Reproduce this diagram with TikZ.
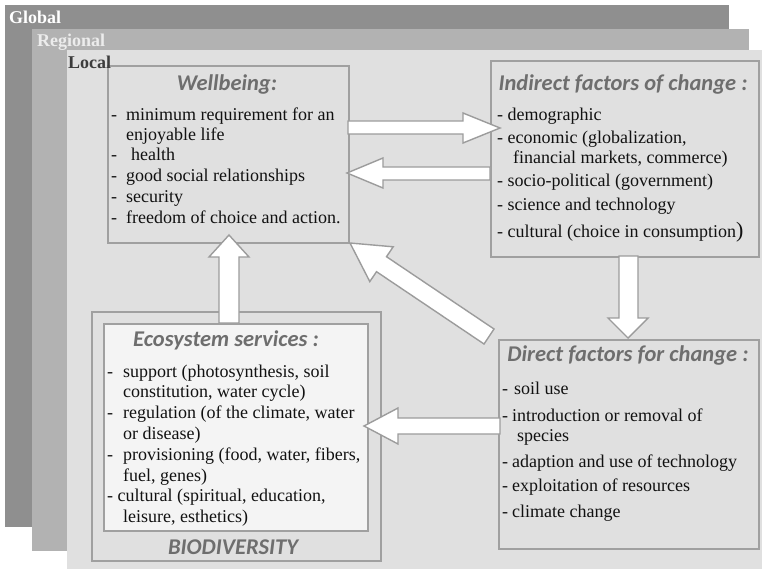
\documentclass[tikz,border=0pt]{standalone}
\usepackage{fontspec}
\setmainfont{Liberation Serif}
\newfontfamily\titlefont{Carlito Bold Italic}
\definecolor{globalbg}{HTML}{8F8F8F}
\definecolor{regionalbg}{HTML}{B2B2B2}
\definecolor{localbg}{HTML}{E0E0E0}
\definecolor{boxline}{HTML}{A0A0A0}
\definecolor{arrowline}{HTML}{9C9C9C}
\definecolor{titlegray}{HTML}{6E6E6E}
\definecolor{ecobg}{HTML}{F4F4F4}
\definecolor{regtext}{HTML}{ECECEC}
\definecolor{loctext}{HTML}{3C3C3C}
\definecolor{bodytext}{HTML}{111111}
\newcommand{\dd}[1]{\makebox[#1pt][l]{-}}
\begin{document}
\begin{tikzpicture}[x=1pt,y=-1pt,
  lay/.style={inner sep=0, anchor=base west, font=\bfseries\fontsize{18}{20}\selectfont},
  box/.style={draw=boxline, line width=1.8pt, fill=localbg, inner sep=0, anchor=north west},
  ttl/.style={inner sep=0, text=titlegray, font=\titlefont\fontsize{22.5}{25}\selectfont},
  body/.style={inner sep=0, anchor=base west, text=bodytext, font=\fontsize{18}{20}\selectfont},
  blk/.style={draw=arrowline, line width=1.4pt, fill=white, line join=miter}]
\useasboundingbox (0,0) rectangle (762,569);
% layers
\fill[globalbg] (5,5) rectangle (729,527);
\fill[regionalbg] (32,29) rectangle (749,551);
\fill[localbg] (67,50) rectangle (762,569);
% boxes
\node[box, minimum width=241pt, minimum height=177pt] (wb) at (107,65) {};
\node[box, minimum width=268pt, minimum height=196pt] (ind) at (490,60) {};
\node[box, minimum width=260pt, minimum height=209pt] (dir) at (498,339) {};
\node[box, minimum width=289pt, minimum height=249pt] (bio) at (91,311) {};
\node[box, fill=ecobg, minimum width=264pt, minimum height=207pt] (eco) at (103,323) {};
% layer labels
\node[lay, text=white] (lglobal) at (9,24) {Global};
\node[lay, text=regtext] (lregional) at (37,47) {Regional};
\node[lay, text=loctext] (llocal) at (68,69) {Local};
% titles
\node[ttl] (twb) at (227,85) {Wellbeing:};
\node[ttl] (tind) at (623,85) {Indirect factors of change :};
\node[ttl] (tdir) at (628,355) {Direct factors for change :};
\node[ttl] (teco) at (226,340) {Ecosystem services :};
\node[ttl] (tbio) at (233,547) {BIODIVERSITY};
% wellbeing text
\node[body] (w1) at (111,121) {\dd{15}minimum requirement for an};
\node[body] (w2) at (126,141) {enjoyable life};
\node[body] (w3) at (111,161) {\dd{20}health};
\node[body] (w4) at (111,182) {\dd{15}good social relationships};
\node[body] (w5) at (111,203) {\dd{15}security};
\node[body] (w6) at (111,224) {\dd{15}freedom of choice and action.};
% indirect text
\node[body] (i1) at (497,121) {- demographic};
\node[body] (i2) at (497,144) {- economic (globalization,};
\node[body] (i3) at (513,164) {financial markets, commerce)};
\node[body] (i4) at (497,187) {- socio-political (government)};
\node[body] (i5) at (497,211) {- science and technology};
\node[body] (i6) at (497,237) {- cultural (choice in consumption{\fontsize{22}{22}\selectfont)}};
% direct text
\node[body] (d1) at (502,394) {\dd{12}soil use};
\node[body] (d2) at (502,421) {\dd{10}introduction or removal of};
\node[body] (d3) at (517,441) {species};
\node[body] (d4) at (502,467) {\dd{10}adaption and use of technology};
\node[body] (d5) at (502,491) {\dd{10}exploitation of resources};
\node[body] (d6) at (502,517) {\dd{10}climate change};
% ecosystem text
\node[body] (e1) at (107,377) {\dd{16}support (photosynthesis, soil};
\node[body] (e2) at (123,397) {constitution, water cycle)};
\node[body] (e3) at (107,418) {\dd{16}regulation (of the climate, water};
\node[body] (e4) at (123,439) {or disease)};
\node[body] (e5) at (107,460) {\dd{16}provisioning (food, water, fibers,};
\node[body] (e6) at (123,481) {fuel, genes)};
\node[body] (e7) at (107,501) {- cultural (spiritual, education,};
\node[body] (e8) at (123,522) {leisure, esthetics)};
% block arrows
\draw[blk] (348,121) -- (463,121) -- (463,113) -- (500,128) -- (463,143) -- (463,134) -- (348,134) -- cycle;
\draw[blk] (490,167) -- (383,167) -- (383,158) -- (347,173) -- (383,188) -- (383,180) -- (490,180) -- cycle;
\draw[blk] (619,256) -- (619,318) -- (608,318) -- (628,338) -- (648,318) -- (638,318) -- (638,256) -- cycle;
\draw[blk] (219,323) -- (219,257) -- (209,257) -- (229,235) -- (249,257) -- (239,257) -- (239,323) -- cycle;
\draw[blk] (500,418) -- (398,418) -- (398,408) -- (364,426) -- (398,444) -- (398,434) -- (500,434) -- cycle;
\draw[blk] (494.0,329.0) -- (386.5,256.7) -- (393.2,246.8) -- (350,243) -- (369.8,281.6) -- (376.5,271.7) -- (484.0,344.0) -- cycle;
\end{tikzpicture}
\end{document}
